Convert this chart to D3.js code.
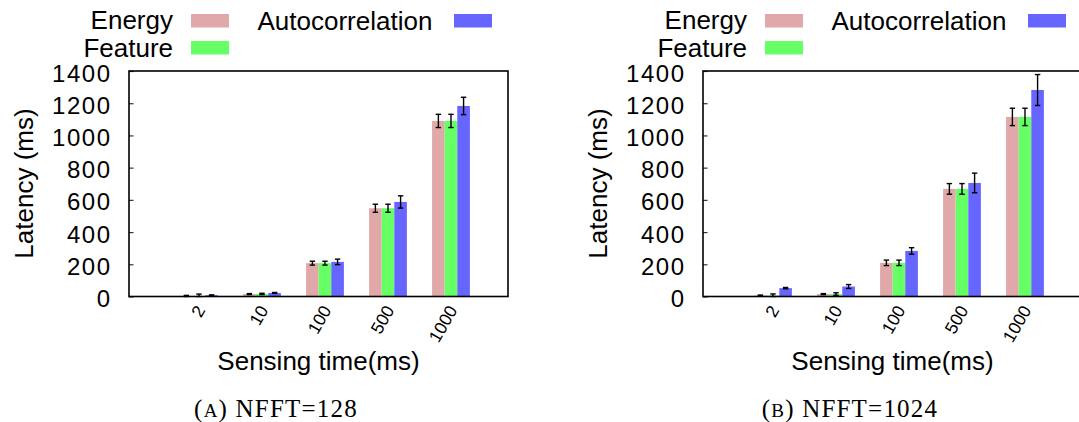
<!DOCTYPE html>
<html>
<head>
<meta charset="utf-8">
<script src="https://cdn.jsdelivr.net/npm/d3@7"></script>
<style>
  html, body { margin: 0; padding: 0; background: #fff; }
  svg { display: block; }
  .sans { font-family: "Liberation Sans", Arial, Helvetica, sans-serif; fill: #000; }
  .serif { font-family: "Liberation Serif", "Times New Roman", serif; fill: #000; }
</style>
</head>
<body>
<svg id="chart" width="1079" height="422"></svg>
<script>
// Sensing time categories (ms) and series names
const categories = ["2", "10", "100", "500", "1000"];
const seriesNames = ["Energy", "Feature", "Autocorrelation"];
const seriesColors = ["#e0a8a8", "#66ff66", "#6666ff"];
const yTicks = [0, 200, 400, 600, 800, 1000, 1200, 1400];

// NFFT = 128: mean latency (ms) and error
const energy128 = [3, 15, 207, 548, 1090];
const energy128Err = [4, 3, 12, 25, 41];
const feature128 = [3, 16, 207, 548, 1090];
const feature128Err = [12, 4, 12, 25, 41];
const autocorr128 = [8, 22, 215, 587, 1183];
const autocorr128Err = [2, 3, 17, 38, 54];

// NFFT = 1024: mean latency (ms) and error
const energy1024 = [6, 15, 209, 668, 1115];
const energy1024Err = [3, 3, 17, 33, 54];
const feature1024 = [6, 15, 209, 668, 1115];
const feature1024Err = [10, 8, 17, 33, 54];
const autocorr1024 = [52, 62, 283, 705, 1282];
const autocorr1024Err = [4, 12, 20, 61, 96];

const svg = d3.select("#chart");

function drawPanel(dx, series, captionLetter, captionText) {
  const g = svg.append("g").attr("transform", `translate(${dx},0)`);
  const left = 129, right = 508, top = 71, bottom = 296.5;

  const x = d3.scaleLinear().domain([-1.111, 4.905]).range([left, right]);
  const y = d3.scaleLinear().domain([0, 1400]).range([bottom, top]);
  const barW = 0.2;
  const offsets = [-0.3, -0.1, 0.1];

  // bars
  series.forEach((s, si) => {
    g.append("g").selectAll("rect")
      .data(s.values)
      .join("rect")
      .attr("x", (d, i) => x(i + offsets[si]))
      .attr("width", x(barW) - x(0))
      .attr("y", d => y(d))
      .attr("height", d => y(0) - y(d))
      .attr("fill", seriesColors[si]);
  });

  // error bars
  series.forEach((s, si) => {
    const eb = g.append("g").attr("stroke", "#000").attr("stroke-width", 1.4);
    s.values.forEach((v, i) => {
      const cx = x(i + offsets[si] + barW / 2);
      const lo = Math.max(0, v - s.err[i]), hi = v + s.err[i];
      eb.append("line").attr("x1", cx).attr("x2", cx).attr("y1", y(lo)).attr("y2", y(hi));
      eb.append("line").attr("x1", cx - 2.7).attr("x2", cx + 2.7).attr("y1", y(lo)).attr("y2", y(lo));
      eb.append("line").attr("x1", cx - 2.7).attr("x2", cx + 2.7).attr("y1", y(hi)).attr("y2", y(hi));
    });
  });

  // y axis ticks (inward) and labels
  const yAxis = d3.axisLeft(y).tickValues(yTicks).tickSize(-4.5).tickFormat("");
  const ya = g.append("g").attr("transform", `translate(${left},0)`).call(yAxis);
  ya.select(".domain").remove();
  ya.selectAll(".tick line").attr("stroke", "#333").attr("stroke-width", 1.2);

  g.append("g").selectAll("text")
    .data(yTicks)
    .join("text")
    .attr("class", "sans")
    .attr("x", 111.5)
    .attr("y", d => y(d) + 10.5)
    .attr("text-anchor", "end")
    .attr("font-size", 24)
    .attr("letter-spacing", 1.5)
    .text(d => d);

  // x tick labels, rotated
  g.append("g").selectAll("text")
    .data(categories)
    .join("text")
    .attr("class", "sans")
    .attr("text-anchor", "end")
    .attr("font-size", 17.5)
    .attr("transform", (d, i) => `translate(${x(i) + 7},310) rotate(-60)`)
    .text(d => d);

  // frame
  g.append("rect")
    .attr("x", left).attr("y", top)
    .attr("width", right - left).attr("height", bottom - top)
    .attr("fill", "none").attr("stroke", "#000").attr("stroke-width", 1.6);

  // axis titles
  g.append("text")
    .attr("class", "sans")
    .attr("font-size", 26)
    .attr("text-anchor", "middle")
    .attr("transform", "translate(33,183.5) rotate(-90)")
    .text("Latency (ms)");

  g.append("text")
    .attr("class", "sans")
    .attr("font-size", 26)
    .attr("text-anchor", "middle")
    .attr("x", (left + right) / 2)
    .attr("y", 370)
    .text("Sensing time(ms)");

  // legend
  const legend = [
    { name: seriesNames[0], tx: 173, ty: 29, sx: 191, sy: 14 },
    { name: seriesNames[1], tx: 173, ty: 56.5, sx: 191, sy: 41 },
    { name: seriesNames[2], tx: 257.5, ty: 29.5, sx: 454, sy: 14, start: true }
  ];
  legend.forEach((l, i) => {
    g.append("text")
      .attr("class", "sans")
      .attr("font-size", 26)
      .attr("x", l.tx).attr("y", l.ty)
      .attr("text-anchor", l.start ? "start" : "end")
      .text(l.name);
    g.append("rect")
      .attr("x", l.sx).attr("y", l.sy)
      .attr("width", 38).attr("height", 13.5)
      .attr("fill", seriesColors[i]);
  });

  // caption
  const cap = g.append("text")
    .attr("class", "serif")
    .attr("font-size", 25)
    .attr("letter-spacing", 1.2)
    .attr("text-anchor", "middle")
    .attr("x", 276).attr("y", 417);
  cap.append("tspan").text("(");
  cap.append("tspan").attr("font-size", 19).text(captionLetter);
  cap.append("tspan").text(") " + captionText);
}

drawPanel(0, [
  { values: energy128, err: energy128Err },
  { values: feature128, err: feature128Err },
  { values: autocorr128, err: autocorr128Err }
], "A", "NFFT=128");

drawPanel(574, [
  { values: energy1024, err: energy1024Err },
  { values: feature1024, err: feature1024Err },
  { values: autocorr1024, err: autocorr1024Err }
], "B", "NFFT=1024");
</script>
</body>
</html>
